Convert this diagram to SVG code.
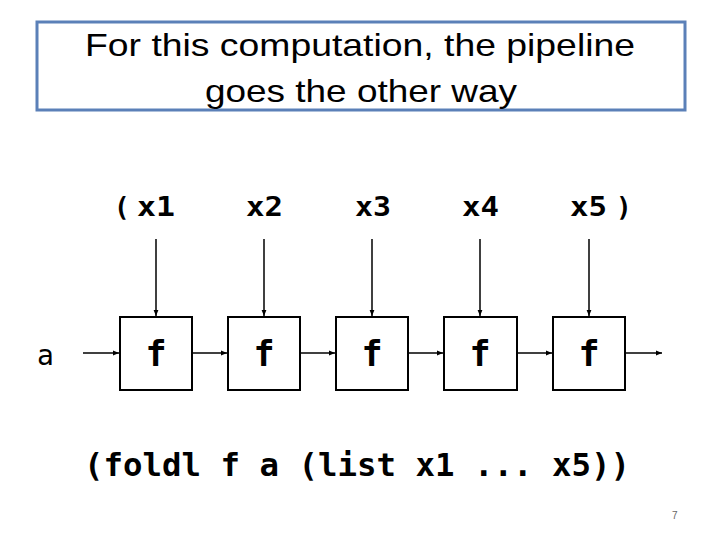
<svg xmlns="http://www.w3.org/2000/svg" width="720" height="540" viewBox="0 0 720 540">
<style>
.title{font-family:"Liberation Sans",Arial,sans-serif;font-size:32px;fill:#000;text-anchor:middle}
.lbl{font-family:"DejaVu Sans Mono","Liberation Mono",monospace;font-weight:bold;font-size:26px;fill:#000}
.f{font-family:"DejaVu Sans Mono","Liberation Mono",monospace;font-weight:bold;font-size:35px;fill:#000;text-anchor:middle}
.box{fill:#fff;stroke:#000;stroke-width:2}
.conn{stroke:#000;stroke-width:1.5;fill:none;marker-end:url(#ah)}
.code{font-family:"DejaVu Sans Mono","Liberation Mono",monospace;font-weight:bold;font-size:32px;fill:#000}
</style>
<defs>
<marker id="ah" viewBox="0 0 10 10" refX="10" refY="5" markerWidth="4" markerHeight="4" orient="auto" markerUnits="strokeWidth">
<path d="M0,1 L10,5 L0,9 z" fill="#000"/>
</marker>
</defs>
<rect width="720" height="540" fill="#fff"/>
<g id="title">
<rect x="37" y="22" width="648" height="88" fill="#fff" stroke="#5B80B8" stroke-width="3"/>
<text class="title" x="360" y="56" textLength="550" lengthAdjust="spacingAndGlyphs">For this computation, the pipeline</text>
<text class="title" x="361" y="102" textLength="312" lengthAdjust="spacingAndGlyphs">goes the other way</text>
</g>
<g id="labels">
<text class="lbl" x="114" y="216">(</text>
<text class="lbl" x="137" y="216" textLength="38" lengthAdjust="spacingAndGlyphs">x1</text>
<text class="lbl" x="246" y="216" textLength="37" lengthAdjust="spacingAndGlyphs">x2</text>
<text class="lbl" x="355" y="216" textLength="36" lengthAdjust="spacingAndGlyphs">x3</text>
<text class="lbl" x="462" y="216" textLength="37" lengthAdjust="spacingAndGlyphs">x4</text>
<text class="lbl" x="570" y="216" textLength="37" lengthAdjust="spacingAndGlyphs">x5</text>
<text class="lbl" x="616" y="216">)</text>
</g>
<g id="input-a">
<text style="font-family:'DejaVu Sans Mono','Liberation Mono',monospace;font-size:28px;fill:#000" x="37" y="365">a</text>
</g>
<g id="f1"><rect class="box" x="120" y="317" width="72" height="73"/><text class="f" x="156" y="366">f</text></g>
<g id="f2"><rect class="box" x="228" y="317" width="72" height="73"/><text class="f" x="264" y="366">f</text></g>
<g id="f3"><rect class="box" x="336" y="317" width="72" height="73"/><text class="f" x="372" y="366">f</text></g>
<g id="f4"><rect class="box" x="444" y="317" width="73" height="73"/><text class="f" x="480" y="366">f</text></g>
<g id="f5"><rect class="box" x="553" y="317" width="72" height="73"/><text class="f" x="589" y="366">f</text></g>
<g id="connectors">
<line class="conn" x1="156" y1="239" x2="156" y2="316"/>
<line class="conn" x1="264" y1="239" x2="264" y2="316"/>
<line class="conn" x1="372" y1="239" x2="372" y2="316"/>
<line class="conn" x1="480" y1="239" x2="480" y2="316"/>
<line class="conn" x1="589" y1="239" x2="589" y2="316"/>
<line class="conn" x1="83" y1="353" x2="119" y2="353"/>
<line class="conn" x1="192" y1="353" x2="227" y2="353"/>
<line class="conn" x1="300" y1="353" x2="335" y2="353"/>
<line class="conn" x1="408" y1="353" x2="443" y2="353"/>
<line class="conn" x1="517" y1="353" x2="552" y2="353"/>
<line class="conn" x1="625" y1="353" x2="662" y2="353"/>
</g>
<g id="code">
<text class="code" x="84" y="476" textLength="546" lengthAdjust="spacingAndGlyphs">(foldl f a (list x1 ... x5))</text>
</g>
<text x="672" y="519" style="font-family:'Liberation Sans',Arial,sans-serif;font-size:10px;fill:#666">7</text>
</svg>
